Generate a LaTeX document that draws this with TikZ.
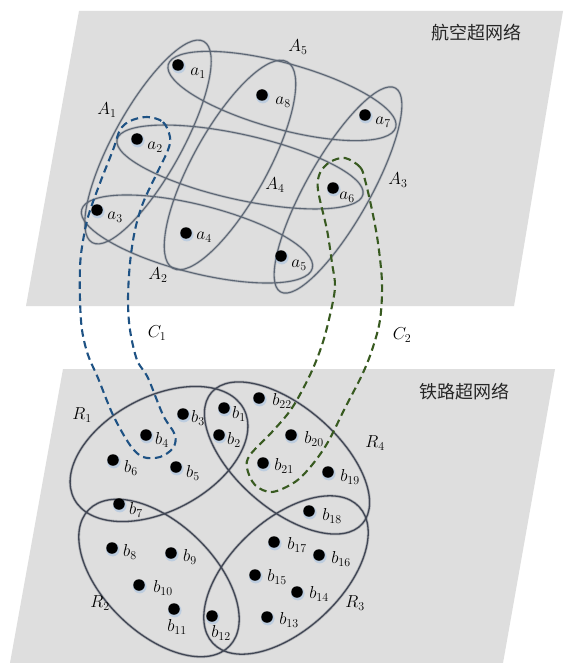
\documentclass[tikz,border=0pt]{standalone}
\usepackage{fontspec}
\newfontfamily\cjk{Noto Sans CJK SC}
\usetikzlibrary{calc}

\definecolor{plane}{RGB}{222,222,222}
\definecolor{edgeline}{RGB}{92,102,116}
\definecolor{edgedark}{RGB}{64,70,84}
\definecolor{cblue}{RGB}{30,82,132}
\definecolor{cgreen}{RGB}{56,90,32}
\definecolor{glow}{RGB}{150,185,225}

\begin{document}
\begin{tikzpicture}[x=1pt,y=-1pt,
  vertex/.style={circle,fill=black,inner sep=0pt,minimum size=11.5pt},
  vlabel/.style={inner sep=0pt,font=\fontsize{17}{20}\selectfont},
  hyper/.style={draw=edgeline,line width=1.1pt,
    preaction={draw=edgeline,line width=2.6pt,opacity=0.25}},
  hyperlow/.style={draw=edgedark,line width=1.3pt,
    preaction={draw=edgedark,line width=2.8pt,opacity=0.25}},
  link/.style={dash pattern=on 7.5pt off 4.5pt,line width=2.1pt},
  title/.style={font=\cjk\fontsize{18}{20}\selectfont,text=black!85,inner sep=0pt},
]
\useasboundingbox (0,0) rectangle (563,663);
\fill[white] (0,0) rectangle (563,663);

% the two layers
\fill[plane] (79,11) -- (563,11) -- (514,306) -- (26,306) -- cycle;
\fill[plane] (63,369) -- (555,369) -- (503,663) -- (10,663) -- cycle;

\node[title] (air) at (476,33) {航空超网络};
\node[title] (rail) at (464,392) {铁路超网络};

% hyperedges of the air layer
\draw[hyper, rotate around={61:(148,142)}] (148,142) ellipse [x radius=115pt, y radius=34pt];
\draw[hyper, rotate around={-15.4:(282,96)}] (282,96) ellipse [x radius=118pt, y radius=33pt];
\draw[hyper, rotate around={61:(230,165)}] (230,165) ellipse [x radius=118pt, y radius=37pt];
\draw[hyper, rotate around={60.6:(338,190)}] (338,190) ellipse [x radius=117pt, y radius=32pt];
\draw[hyper, rotate around={-12.6:(240,167)}] (240,167) ellipse [x radius=126pt, y radius=32.5pt];
\draw[hyper, rotate around={-14.2:(197,239)}] (197,239) ellipse [x radius=119pt, y radius=34pt];

% hyperedges of the rail layer
\draw[hyperlow, rotate around={28:(159,454)}] (159,454) ellipse [x radius=96pt, y radius=57pt];
\draw[hyperlow, rotate around={-41:(287,458)}] (287,458) ellipse [x radius=100pt, y radius=51pt];
\draw[hyperlow, rotate around={-44:(159,578)}] (159,578) ellipse [x radius=98pt, y radius=55pt];
\draw[hyperlow, rotate around={43:(286,575)}] (286,575) ellipse [x radius=100pt, y radius=55pt];

% hyperedge labels
\foreach \n/\x/\y/\t in {hA1/107/110/A_1, hA2/158/275/A_2, hA3/398/180/A_3, hA4/275/185/A_4, hA5/298/47/A_5,
  hR1/82/415/R_1, hR2/100/603/R_2, hR3/355/603/R_3, hR4/375/443/R_4,
  hC1/157/333/C_1, hC2/402/335/C_2}
  \node[vlabel] (\n) at (\x,\y) {$\t$};

% inter-layer couplings
\draw[link, draw=cblue] plot[smooth cycle, tension=0.55] coordinates {
  (147,117) (163,122) (170,137) (168,150) (157,173) (143,203) (135,230) (130,263)
  (128,300) (130,330) (137,360) (148,378) (163,415) (175,435) (173,448) (160,457)
  (143,457) (130,445) (113,415) (98,378) (88,355) (82,330) (80,300) (80,268)
  (82,247) (88,217) (100,183) (113,150) (120,130) (130,121)};
\draw[link, draw=cgreen] plot[smooth cycle, tension=0.55] coordinates {
  (345,158) (360,167) (365,180) (372,210) (378,243) (382,283) (380,320) (372,350)
  (362,375) (345,408) (328,442) (312,465) (295,482) (272,492) (255,485) (247,468)
  (250,455) (272,432) (292,408) (310,375) (322,345) (330,315) (335,287) (332,263)
  (327,230) (318,190) (320,173) (330,162)};

% vertices
\foreach \n/\x/\y/\lx/\ly/\t in {
  a1/178/65/198/73/a_1, a2/137/139/155/147/a_2, a3/97/210/115/217/a_3,
  a4/186/233/204/237/a_4, a5/281/256/299/265/a_5, a6/333/188/347/197/a_6,
  a7/365/115/383/122/a_7, a8/262/95/283/102/a_8,
  b1/224/408/239/414/b_1, b2/219/435/234/440/b_2, b3/183/414/198/418/b_3,
  b4/146/435/162/440/b_4, b5/176/467/193/473/b_5, b6/113/460/131/468/b_6,
  b7/119/504/136/510/b_7, b8/112/548/130/552/b_8, b9/171/553/190/557/b_9,
  b10/139/585/163/588/b_{10}, b11/174/609/177/627/b_{11}, b12/212/616/221/633/b_{12},
  b13/267/617/289/620/b_{13}, b14/297/592/319/594/b_{14}, b15/255/575/277/577/b_{15},
  b16/319/555/341/559/b_{16}, b17/274/542/297/545/b_{17}, b18/309/511/332/516/b_{18},
  b19/328/472/350/477/b_{19}, b20/291/435/314/439/b_{20}, b21/263/463/284/466/b_{21},
  b22/259/398/282/401/b_{22}}
{
  \fill[glow,opacity=0.45] (\x+0.8,\y+1.6) circle (6.8pt);
  \node[vertex] (\n) at (\x,\y) {};
  \node[vlabel] (l\n) at (\lx,\ly) {$\t$};
}
\end{tikzpicture}
\end{document}
